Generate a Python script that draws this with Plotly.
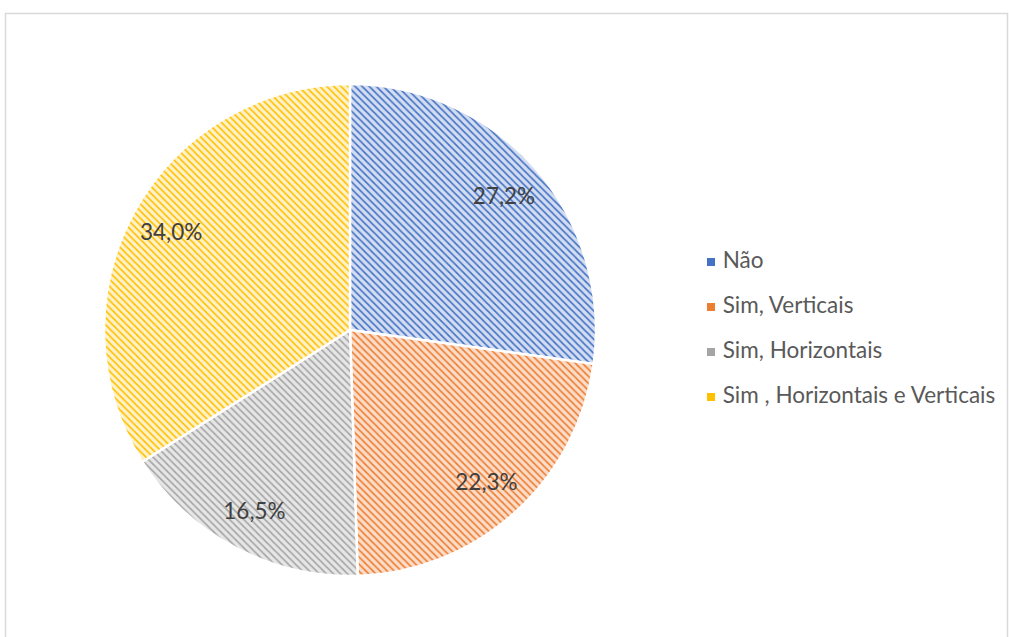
import plotly.graph_objects as go

labels = ["Não", "Sim, Verticais", "Sim, Horizontais", "Sim , Horizontais e Verticais"]
values = [27.2, 22.3, 16.5, 34.0]
colors = ["#4472C4", "#ED7D31", "#A5A5A5", "#FFC000"]
light = ["#d3ddf1", "#fbdcc8", "#e6e6e6", "#fff2c9"]

W, H = 1009, 637
cx, cy, R = 350, 330, 246

dom_x = [(cx - R) / W, (cx + R) / W]
dom_y = [1 - (cy + R) / H, 1 - (cy - R) / H]

FONT = "Lato, Noto Sans, sans-serif"

fig = go.Figure()

fig.add_trace(go.Pie(
    labels=labels, values=values, sort=False, direction="clockwise", rotation=0,
    domain=dict(x=dom_x, y=dom_y),
    marker=dict(colors=colors, line=dict(color="white", width=2.5),
                pattern=dict(shape="\\", fgcolor=colors, bgcolor=light,
                             size=5, solidity=0.33, fillmode="replace")),
    textinfo="none", hoverinfo="skip", showlegend=False,
))

# transparent ring trace used only to place labels at ~0.83R
fig.add_trace(go.Pie(
    labels=labels, values=values, sort=False, direction="clockwise", rotation=0,
    domain=dict(x=dom_x, y=dom_y), hole=0.66,
    marker=dict(colors=["rgba(0,0,0,0)"] * 4, line=dict(width=0)),
    texttemplate="%{percent:.1%}", textposition="inside",
    insidetextorientation="horizontal",
    textfont=dict(family=FONT, size=22.5, color="#404040"),
    hoverinfo="skip", showlegend=False,
))

# custom legend (spacing as in the reference)
leg_y = list(range(len(labels)))
fig.add_trace(go.Scatter(
    x=[711 / W] * len(labels), y=leg_y, mode="markers+text",
    marker=dict(symbol="square", size=8, color=colors),
    text=[" " + l for l in labels], textposition="middle right",
    textfont=dict(family=FONT, size=22.5, color="#595959"),
    hoverinfo="skip", showlegend=False, xaxis="x", yaxis="y",
))

p0 = 1 - 262 / H
step = 45 / H
fig.update_layout(
    width=W, height=H, margin=dict(l=0, r=0, t=0, b=0),
    paper_bgcolor="white", plot_bgcolor="rgba(0,0,0,0)",
    separators=",.",
    xaxis=dict(domain=[0, 1], range=[0, 1], visible=False, fixedrange=True),
    yaxis=dict(domain=[0, 1], range=[p0 / step, -(1 - p0) / step], visible=False, fixedrange=True),
    shapes=[dict(type="rect", xref="paper", yref="paper",
                 x0=5.5 / W, x1=1007.5 / W, y0=-0.05, y1=1 - 13.5 / H,
                 line=dict(color="#d9d9d9", width=1.5), layer="below")],
)

fig.write_html("out.html", config={"displayModeBar": False},
               post_script="document.body.style.margin='0';document.body.style.overflow='hidden';")
